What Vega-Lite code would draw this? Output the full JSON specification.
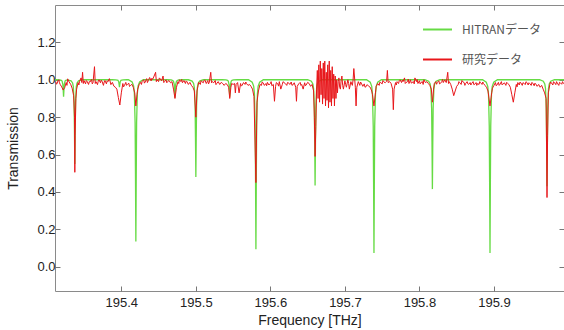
{
"$schema":"https://vega.github.io/schema/vega-lite/v6.json",
"width":509,"height":286,
"autosize":{"type":"none"},
"padding":{"left":55,"top":5,"right":0,"bottom":39},
"background":"white",
"config":{
"view":{"stroke":"#8a8a8a","strokeWidth":1},
"axis":{"grid":false,"domain":false,"tickColor":"#777","tickSize":-5,"labelFont":"Liberation Sans","labelFontSize":13,"labelColor":"#222","titleFont":"Liberation Sans","titleFontSize":14,"titleFontWeight":"normal","titleColor":"#222"}
},
"datasets":{
"hitran":[
{"freq":195.311,"trans":1.0},
{"freq":195.3125,"trans":1.0},
{"freq":195.3175,"trans":0.999},{"freq":195.3195,"trans":0.997},{"freq":195.3205,"trans":0.993},{"freq":195.3215,"trans":0.976},{"freq":195.322,"trans":0.947},{"freq":195.3225,"trans":0.91},{"freq":195.323,"trans":0.947},{"freq":195.3235,"trans":0.976},{"freq":195.3245,"trans":0.993},{"freq":195.3255,"trans":0.997},{"freq":195.3275,"trans":0.999},
{"freq":195.3326,"trans":0.994},{"freq":195.3346,"trans":0.983},{"freq":195.3356,"trans":0.963},{"freq":195.3366,"trans":0.881},{"freq":195.3371,"trans":0.735},{"freq":195.3376,"trans":0.55},{"freq":195.3381,"trans":0.735},{"freq":195.3386,"trans":0.881},{"freq":195.3396,"trans":0.963},{"freq":195.3406,"trans":0.983},{"freq":195.3426,"trans":0.994},{"freq":195.3476,"trans":1.0},
{"freq":195.3875,"trans":1.0},{"freq":195.3925,"trans":0.999},{"freq":195.3945,"trans":0.998},{"freq":195.3955,"trans":0.997},{"freq":195.3965,"trans":0.989},{"freq":195.397,"trans":0.976},{"freq":195.3975,"trans":0.96},{"freq":195.398,"trans":0.976},{"freq":195.3985,"trans":0.989},{"freq":195.3995,"trans":0.997},{"freq":195.4005,"trans":0.998},{"freq":195.4025,"trans":0.999},{"freq":195.4075,"trans":1.0},
{"freq":195.4095,"trans":1.0},{"freq":195.4145,"trans":0.988},{"freq":195.4165,"trans":0.967},{"freq":195.4175,"trans":0.928},{"freq":195.4185,"trans":0.771},{"freq":195.419,"trans":0.49},{"freq":195.4195,"trans":0.135},{"freq":195.42,"trans":0.49},{"freq":195.4205,"trans":0.771},{"freq":195.4215,"trans":0.928},{"freq":195.4225,"trans":0.967},{"freq":195.4245,"trans":0.988},{"freq":195.4295,"trans":1.0},
{"freq":195.462,"trans":1.0},{"freq":195.467,"trans":0.999},{"freq":195.469,"trans":0.996},{"freq":195.47,"trans":0.992},{"freq":195.471,"trans":0.975},{"freq":195.4715,"trans":0.944},{"freq":195.472,"trans":0.905},{"freq":195.4725,"trans":0.944},{"freq":195.473,"trans":0.975},{"freq":195.474,"trans":0.992},{"freq":195.475,"trans":0.996},{"freq":195.477,"trans":0.999},{"freq":195.482,"trans":1.0},
{"freq":195.49,"trans":1.0},{"freq":195.495,"trans":0.993},{"freq":195.497,"trans":0.98},{"freq":195.498,"trans":0.957},{"freq":195.499,"trans":0.862},{"freq":195.4995,"trans":0.693},{"freq":195.5,"trans":0.48},{"freq":195.5005,"trans":0.693},{"freq":195.501,"trans":0.862},{"freq":195.502,"trans":0.957},{"freq":195.503,"trans":0.98},{"freq":195.505,"trans":0.993},{"freq":195.51,"trans":1.0},
{"freq":195.5355,"trans":1.0},{"freq":195.5405,"trans":0.999},{"freq":195.5425,"trans":0.997},{"freq":195.5435,"trans":0.993},{"freq":195.5445,"trans":0.976},{"freq":195.545,"trans":0.947},{"freq":195.5455,"trans":0.91},{"freq":195.546,"trans":0.947},{"freq":195.5465,"trans":0.976},{"freq":195.5475,"trans":0.993},{"freq":195.5485,"trans":0.997},{"freq":195.5505,"trans":0.999},{"freq":195.5555,"trans":1.0},
{"freq":195.5706,"trans":1.0},{"freq":195.5756,"trans":0.987},{"freq":195.5776,"trans":0.966},{"freq":195.5786,"trans":0.925},{"freq":195.5796,"trans":0.76},{"freq":195.5801,"trans":0.465},{"freq":195.5806,"trans":0.094},{"freq":195.5811,"trans":0.465},{"freq":195.5816,"trans":0.76},{"freq":195.5826,"trans":0.925},{"freq":195.5836,"trans":0.966},{"freq":195.5856,"trans":0.987},{"freq":195.5906,"trans":1.0},
{"freq":195.65,"trans":1.0},{"freq":195.655,"trans":0.992},{"freq":195.657,"trans":0.978},{"freq":195.658,"trans":0.953},{"freq":195.659,"trans":0.85},{"freq":195.6595,"trans":0.666},{"freq":195.66,"trans":0.434},{"freq":195.6605,"trans":0.666},{"freq":195.661,"trans":0.85},{"freq":195.662,"trans":0.953},{"freq":195.663,"trans":0.978},{"freq":195.665,"trans":0.992},{"freq":195.67,"trans":1.0},
{"freq":195.729,"trans":1.0},{"freq":195.734,"trans":0.987},{"freq":195.736,"trans":0.965},{"freq":195.737,"trans":0.923},{"freq":195.738,"trans":0.754},{"freq":195.7385,"trans":0.453},{"freq":195.739,"trans":0.073},{"freq":195.7395,"trans":0.453},{"freq":195.74,"trans":0.754},{"freq":195.741,"trans":0.923},{"freq":195.742,"trans":0.965},{"freq":195.744,"trans":0.987},{"freq":195.749,"trans":1.0},
{"freq":195.8074,"trans":1.0},{"freq":195.8124,"trans":0.992},{"freq":195.8144,"trans":0.978},{"freq":195.8154,"trans":0.951},{"freq":195.8164,"trans":0.845},{"freq":195.8169,"trans":0.655},{"freq":195.8174,"trans":0.415},{"freq":195.8179,"trans":0.655},{"freq":195.8184,"trans":0.845},{"freq":195.8194,"trans":0.951},{"freq":195.8204,"trans":0.978},{"freq":195.8224,"trans":0.992},{"freq":195.8274,"trans":1.0},
{"freq":195.8847,"trans":1.0},{"freq":195.8897,"trans":0.987},{"freq":195.8917,"trans":0.965},{"freq":195.8927,"trans":0.923},{"freq":195.8937,"trans":0.754},{"freq":195.8942,"trans":0.453},{"freq":195.8947,"trans":0.073},{"freq":195.8952,"trans":0.453},{"freq":195.8957,"trans":0.754},{"freq":195.8967,"trans":0.923},{"freq":195.8977,"trans":0.965},{"freq":195.8997,"trans":0.987},{"freq":195.9047,"trans":1.0},
{"freq":195.9612,"trans":1.0},{"freq":195.9662,"trans":0.992},{"freq":195.9682,"trans":0.978},{"freq":195.9692,"trans":0.953},{"freq":195.9702,"trans":0.849},{"freq":195.9707,"trans":0.664},{"freq":195.9712,"trans":0.43},{"freq":195.9717,"trans":0.664},{"freq":195.9722,"trans":0.849},{"freq":195.9732,"trans":0.953},{"freq":195.9742,"trans":0.978},{"freq":195.9762,"trans":0.992},{"freq":195.9812,"trans":1.0},
{"freq":195.994,"trans":1.0}
],
"meas":[
{"freq":195.312,"trans":0.99},{"freq":195.313,"trans":0.976},{"freq":195.314,"trans":0.982},{"freq":195.315,"trans":0.995},{"freq":195.316,"trans":1.0},{"freq":195.317,"trans":0.984},{"freq":195.318,"trans":0.975},{"freq":195.32,"trans":0.962},{"freq":195.322,"trans":0.945},{"freq":195.324,"trans":0.958},{"freq":195.326,"trans":0.985},{"freq":195.327,"trans":0.97},{"freq":195.328,"trans":1.005},{"freq":195.33,"trans":0.988},{"freq":195.332,"trans":0.976},{"freq":195.334,"trans":0.955},{"freq":195.336,"trans":0.915},{"freq":195.3372,"trans":0.8},{"freq":195.3376,"trans":0.505},{"freq":195.338,"trans":0.7},{"freq":195.339,"trans":0.9},{"freq":195.34,"trans":0.95},{"freq":195.342,"trans":0.985},{"freq":195.343,"trans":0.972},{"freq":195.344,"trans":0.992},{"freq":195.346,"trans":1.01},{"freq":195.347,"trans":0.985},{"freq":195.348,"trans":1.04},{"freq":195.349,"trans":0.98},{"freq":195.35,"trans":0.995},{"freq":195.352,"trans":0.978},{"freq":195.353,"trans":0.996},{"freq":195.354,"trans":0.992},{"freq":195.356,"trans":0.975},{"freq":195.357,"trans":0.99},{"freq":195.358,"trans":0.988},{"freq":195.36,"trans":1.002},{"freq":195.361,"trans":0.978},{"freq":195.362,"trans":0.984},{"freq":195.364,"trans":1.07},{"freq":195.365,"trans":0.98},{"freq":195.366,"trans":0.99},{"freq":195.368,"trans":0.974},{"freq":195.369,"trans":0.992},{"freq":195.37,"trans":1.0},{"freq":195.372,"trans":0.984},{"freq":195.373,"trans":0.998},{"freq":195.374,"trans":0.993},{"freq":195.376,"trans":0.97},{"freq":195.377,"trans":0.988},{"freq":195.378,"trans":0.996},{"freq":195.38,"trans":0.978},{"freq":195.381,"trans":0.995},{"freq":195.382,"trans":0.99},{"freq":195.384,"trans":1.006},{"freq":195.386,"trans":0.974},{"freq":195.388,"trans":0.986},{"freq":195.39,"trans":0.966},{"freq":195.392,"trans":0.96},{"freq":195.394,"trans":0.95},{"freq":195.396,"trans":0.905},{"freq":195.398,"trans":0.865},{"freq":195.4,"trans":0.93},{"freq":195.402,"trans":0.98},{"freq":195.403,"trans":0.962},{"freq":195.404,"trans":0.968},{"freq":195.406,"trans":0.986},{"freq":195.407,"trans":0.97},{"freq":195.408,"trans":0.974},{"freq":195.41,"trans":0.982},{"freq":195.411,"trans":0.964},{"freq":195.412,"trans":0.968},{"freq":195.414,"trans":0.976},{"freq":195.416,"trans":0.96},{"freq":195.418,"trans":0.93},{"freq":195.4195,"trans":0.86},{"freq":195.421,"trans":0.92},{"freq":195.422,"trans":0.95},{"freq":195.424,"trans":0.975},{"freq":195.426,"trans":0.986},{"freq":195.427,"trans":0.975},{"freq":195.428,"trans":0.992},{"freq":195.43,"trans":1.0},{"freq":195.431,"trans":0.982},{"freq":195.432,"trans":0.988},{"freq":195.434,"trans":1.006},{"freq":195.435,"trans":0.985},{"freq":195.436,"trans":0.994},{"freq":195.438,"trans":1.012},{"freq":195.44,"trans":0.994},{"freq":195.441,"trans":1.008},{"freq":195.442,"trans":1.002},{"freq":195.444,"trans":1.02},{"freq":195.446,"trans":1.04},{"freq":195.447,"trans":0.99},{"freq":195.448,"trans":1.0},{"freq":195.45,"trans":0.99},{"freq":195.451,"trans":1.01},{"freq":195.452,"trans":1.006},{"freq":195.454,"trans":0.994},{"freq":195.456,"trans":1.02},{"freq":195.457,"trans":0.985},{"freq":195.458,"trans":0.99},{"freq":195.46,"trans":1.0},{"freq":195.461,"trans":0.984},{"freq":195.462,"trans":0.99},{"freq":195.464,"trans":0.996},{"freq":195.466,"trans":0.984},{"freq":195.468,"trans":0.99},{"freq":195.47,"trans":0.95},{"freq":195.472,"trans":0.9},{"freq":195.474,"trans":0.96},{"freq":195.476,"trans":0.99},{"freq":195.477,"trans":0.98},{"freq":195.478,"trans":1.0},{"freq":195.48,"trans":0.99},{"freq":195.481,"trans":1.002},{"freq":195.482,"trans":0.984},{"freq":195.484,"trans":0.996},{"freq":195.486,"trans":0.98},{"freq":195.487,"trans":0.994},{"freq":195.488,"trans":0.99},{"freq":195.49,"trans":0.975},{"freq":195.492,"trans":0.986},{"freq":195.494,"trans":0.97},{"freq":195.496,"trans":0.96},{"freq":195.498,"trans":0.94},{"freq":195.5,"trans":0.8},{"freq":195.5015,"trans":0.94},{"freq":195.503,"trans":0.97},{"freq":195.504,"trans":0.986},{"freq":195.506,"trans":0.975},{"freq":195.507,"trans":0.995},{"freq":195.508,"trans":0.99},{"freq":195.51,"trans":0.984},{"freq":195.511,"trans":0.996},{"freq":195.512,"trans":1.0},{"freq":195.514,"trans":0.98},{"freq":195.516,"trans":0.996},{"freq":195.517,"trans":0.978},{"freq":195.518,"trans":0.985},{"freq":195.52,"trans":1.04},{"freq":195.521,"trans":0.984},{"freq":195.522,"trans":0.99},{"freq":195.524,"trans":0.984},{"freq":195.526,"trans":0.996},{"freq":195.527,"trans":0.974},{"freq":195.528,"trans":0.98},{"freq":195.53,"trans":0.99},{"freq":195.532,"trans":0.975},{"freq":195.534,"trans":0.986},{"freq":195.536,"trans":0.98},{"freq":195.538,"trans":0.97},{"freq":195.54,"trans":0.98},{"freq":195.542,"trans":0.975},{"freq":195.544,"trans":0.96},{"freq":195.5455,"trans":0.9},{"freq":195.547,"trans":0.96},{"freq":195.548,"trans":0.98},{"freq":195.55,"trans":0.975},{"freq":195.552,"trans":0.98},{"freq":195.553,"trans":0.93},{"freq":195.554,"trans":0.975},{"freq":195.556,"trans":0.985},{"freq":195.558,"trans":0.93},{"freq":195.56,"trans":0.98},{"freq":195.561,"trans":0.966},{"freq":195.562,"trans":0.97},{"freq":195.564,"trans":0.985},{"freq":195.566,"trans":0.975},{"freq":195.567,"trans":0.988},{"freq":195.568,"trans":0.98},{"freq":195.57,"trans":0.97},{"freq":195.572,"trans":0.975},{"freq":195.574,"trans":0.965},{"freq":195.576,"trans":0.95},{"freq":195.578,"trans":0.91},{"freq":195.5806,"trans":0.45},{"freq":195.582,"trans":0.88},{"freq":195.584,"trans":0.94},{"freq":195.586,"trans":0.975},{"freq":195.588,"trans":0.97},{"freq":195.589,"trans":0.988},{"freq":195.59,"trans":0.985},{"freq":195.592,"trans":0.97},{"freq":195.594,"trans":0.98},{"freq":195.595,"trans":0.968},{"freq":195.596,"trans":0.986},{"freq":195.598,"trans":0.972},{"freq":195.6,"trans":0.98},{"freq":195.601,"trans":0.99},{"freq":195.602,"trans":0.968},{"freq":195.604,"trans":0.975},{"freq":195.6055,"trans":0.885},{"freq":195.607,"trans":0.965},{"freq":195.608,"trans":0.985},{"freq":195.61,"trans":0.978},{"freq":195.611,"trans":0.966},{"freq":195.612,"trans":0.99},{"freq":195.614,"trans":0.95},{"freq":195.616,"trans":0.975},{"freq":195.617,"trans":0.99},{"freq":195.618,"trans":0.986},{"freq":195.62,"trans":0.98},{"freq":195.622,"trans":0.97},{"freq":195.623,"trans":0.985},{"freq":195.624,"trans":0.985},{"freq":195.626,"trans":0.975},{"freq":195.628,"trans":0.988},{"freq":195.629,"trans":0.97},{"freq":195.63,"trans":0.972},{"freq":195.632,"trans":0.984},{"freq":195.634,"trans":0.96},{"freq":195.635,"trans":0.885},{"freq":195.636,"trans":0.965},{"freq":195.638,"trans":0.978},{"freq":195.64,"trans":0.986},{"freq":195.641,"trans":0.97},{"freq":195.642,"trans":0.975},{"freq":195.644,"trans":0.95},{"freq":195.646,"trans":0.984},{"freq":195.647,"trans":0.968},{"freq":195.648,"trans":0.972},{"freq":195.65,"trans":0.986},{"freq":195.652,"trans":0.98},{"freq":195.654,"trans":0.965},{"freq":195.656,"trans":0.975},{"freq":195.658,"trans":0.94},{"freq":195.659,"trans":0.8},{"freq":195.66,"trans":0.59},{"freq":195.661,"trans":0.75},{"freq":195.662,"trans":0.95},{"freq":195.663,"trans":1.05},{"freq":195.664,"trans":0.9},{"freq":195.665,"trans":1.08},{"freq":195.666,"trans":0.88},{"freq":195.667,"trans":1.1},{"freq":195.668,"trans":0.92},{"freq":195.669,"trans":1.06},{"freq":195.67,"trans":0.87},{"freq":195.671,"trans":1.09},{"freq":195.672,"trans":0.9},{"freq":195.673,"trans":1.1},{"freq":195.674,"trans":0.86},{"freq":195.675,"trans":1.04},{"freq":195.676,"trans":0.89},{"freq":195.677,"trans":1.08},{"freq":195.678,"trans":0.85},{"freq":195.679,"trans":1.1},{"freq":195.68,"trans":0.88},{"freq":195.681,"trans":1.05},{"freq":195.682,"trans":0.86},{"freq":195.683,"trans":1.07},{"freq":195.684,"trans":0.9},{"freq":195.685,"trans":1.03},{"freq":195.686,"trans":0.86},{"freq":195.687,"trans":1.02},{"freq":195.688,"trans":0.9},{"freq":195.689,"trans":1.0},{"freq":195.69,"trans":0.93},{"freq":195.691,"trans":0.99},{"freq":195.692,"trans":1.01},{"freq":195.693,"trans":0.96},{"freq":195.694,"trans":0.95},{"freq":195.695,"trans":1.0},{"freq":195.696,"trans":1.02},{"freq":195.697,"trans":0.97},{"freq":195.698,"trans":0.95},{"freq":195.7,"trans":0.995},{"freq":195.701,"trans":0.975},{"freq":195.702,"trans":0.96},{"freq":195.704,"trans":1.0},{"freq":195.705,"trans":0.98},{"freq":195.706,"trans":0.95},{"freq":195.708,"trans":0.99},{"freq":195.71,"trans":0.97},{"freq":195.711,"trans":1.0},{"freq":195.712,"trans":1.06},{"freq":195.714,"trans":0.96},{"freq":195.715,"trans":0.86},{"freq":195.716,"trans":0.96},{"freq":195.718,"trans":0.99},{"freq":195.72,"trans":0.97},{"freq":195.721,"trans":0.988},{"freq":195.722,"trans":0.982},{"freq":195.724,"trans":0.965},{"freq":195.726,"trans":0.978},{"freq":195.727,"trans":0.96},{"freq":195.728,"trans":0.962},{"freq":195.73,"trans":0.974},{"freq":195.732,"trans":0.965},{"freq":195.734,"trans":0.96},{"freq":195.736,"trans":0.94},{"freq":195.737,"trans":0.92},{"freq":195.739,"trans":0.86},{"freq":195.741,"trans":0.93},{"freq":195.742,"trans":0.965},{"freq":195.744,"trans":0.98},{"freq":195.746,"trans":0.97},{"freq":195.747,"trans":0.988},{"freq":195.748,"trans":0.985},{"freq":195.75,"trans":0.978},{"freq":195.751,"trans":0.996},{"freq":195.752,"trans":0.99},{"freq":195.754,"trans":0.984},{"freq":195.756,"trans":0.992},{"freq":195.757,"trans":1.05},{"freq":195.758,"trans":0.985},{"freq":195.76,"trans":0.99},{"freq":195.762,"trans":0.98},{"freq":195.764,"trans":0.95},{"freq":195.765,"trans":0.84},{"freq":195.766,"trans":0.95},{"freq":195.768,"trans":0.985},{"freq":195.769,"trans":0.972},{"freq":195.77,"trans":0.99},{"freq":195.772,"trans":0.98},{"freq":195.773,"trans":0.996},{"freq":195.774,"trans":1.0},{"freq":195.776,"trans":0.985},{"freq":195.777,"trans":0.998},{"freq":195.778,"trans":0.99},{"freq":195.78,"trans":1.01},{"freq":195.781,"trans":0.98},{"freq":195.782,"trans":0.985},{"freq":195.784,"trans":0.99},{"freq":195.785,"trans":1.004},{"freq":195.786,"trans":0.98},{"freq":195.788,"trans":1.0},{"freq":195.789,"trans":0.982},{"freq":195.79,"trans":0.985},{"freq":195.792,"trans":0.99},{"freq":195.793,"trans":0.978},{"freq":195.794,"trans":1.01},{"freq":195.796,"trans":0.99},{"freq":195.797,"trans":1.002},{"freq":195.798,"trans":0.98},{"freq":195.8,"trans":0.995},{"freq":195.801,"trans":0.978},{"freq":195.802,"trans":0.985},{"freq":195.804,"trans":0.99},{"freq":195.805,"trans":0.975},{"freq":195.806,"trans":1.0},{"freq":195.808,"trans":0.985},{"freq":195.81,"trans":0.99},{"freq":195.812,"trans":0.98},{"freq":195.814,"trans":0.97},{"freq":195.816,"trans":0.95},{"freq":195.8174,"trans":0.88},{"freq":195.819,"trans":0.95},{"freq":195.82,"trans":0.98},{"freq":195.822,"trans":0.99},{"freq":195.823,"trans":0.976},{"freq":195.824,"trans":0.985},{"freq":195.826,"trans":0.995},{"freq":195.827,"trans":0.978},{"freq":195.828,"trans":0.98},{"freq":195.83,"trans":0.99},{"freq":195.831,"trans":1.002},{"freq":195.832,"trans":0.985},{"freq":195.834,"trans":1.0},{"freq":195.836,"trans":0.985},{"freq":195.838,"trans":1.04},{"freq":195.839,"trans":0.98},{"freq":195.84,"trans":0.99},{"freq":195.842,"trans":0.975},{"freq":195.844,"trans":0.95},{"freq":195.846,"trans":0.915},{"freq":195.848,"trans":0.94},{"freq":195.85,"trans":0.965},{"freq":195.852,"trans":0.975},{"freq":195.853,"trans":0.99},{"freq":195.854,"trans":0.985},{"freq":195.856,"trans":0.975},{"freq":195.857,"trans":0.996},{"freq":195.858,"trans":0.99},{"freq":195.86,"trans":0.985},{"freq":195.861,"trans":0.97},{"freq":195.862,"trans":0.98},{"freq":195.864,"trans":0.99},{"freq":195.865,"trans":0.978},{"freq":195.866,"trans":0.975},{"freq":195.868,"trans":0.985},{"freq":195.869,"trans":0.972},{"freq":195.87,"trans":0.98},{"freq":195.872,"trans":0.99},{"freq":195.873,"trans":0.974},{"freq":195.874,"trans":0.975},{"freq":195.876,"trans":0.985},{"freq":195.877,"trans":0.97},{"freq":195.878,"trans":0.98},{"freq":195.88,"trans":0.975},{"freq":195.881,"trans":0.99},{"freq":195.882,"trans":0.985},{"freq":195.884,"trans":0.975},{"freq":195.885,"trans":0.988},{"freq":195.886,"trans":0.98},{"freq":195.888,"trans":0.97},{"freq":195.89,"trans":0.96},{"freq":195.892,"trans":0.94},{"freq":195.8947,"trans":0.86},{"freq":195.897,"trans":0.93},{"freq":195.898,"trans":0.955},{"freq":195.9,"trans":0.97},{"freq":195.902,"trans":0.985},{"freq":195.903,"trans":0.968},{"freq":195.904,"trans":0.972},{"freq":195.906,"trans":0.986},{"freq":195.907,"trans":0.97},{"freq":195.908,"trans":0.975},{"freq":195.91,"trans":0.99},{"freq":195.911,"trans":0.972},{"freq":195.912,"trans":0.976},{"freq":195.914,"trans":0.984},{"freq":195.916,"trans":0.97},{"freq":195.917,"trans":0.986},{"freq":195.918,"trans":0.982},{"freq":195.92,"trans":0.975},{"freq":195.922,"trans":0.96},{"freq":195.924,"trans":0.92},{"freq":195.926,"trans":0.88},{"freq":195.928,"trans":0.93},{"freq":195.93,"trans":0.975},{"freq":195.931,"trans":0.962},{"freq":195.932,"trans":0.985},{"freq":195.934,"trans":0.972},{"freq":195.935,"trans":0.988},{"freq":195.936,"trans":0.984},{"freq":195.938,"trans":0.97},{"freq":195.939,"trans":0.985},{"freq":195.94,"trans":0.982},{"freq":195.942,"trans":0.974},{"freq":195.943,"trans":0.99},{"freq":195.944,"trans":0.986},{"freq":195.946,"trans":0.972},{"freq":195.947,"trans":0.984},{"freq":195.948,"trans":0.98},{"freq":195.95,"trans":0.97},{"freq":195.951,"trans":0.986},{"freq":195.952,"trans":0.982},{"freq":195.954,"trans":0.968},{"freq":195.955,"trans":0.982},{"freq":195.956,"trans":0.978},{"freq":195.958,"trans":0.965},{"freq":195.96,"trans":0.975},{"freq":195.962,"trans":0.96},{"freq":195.964,"trans":0.97},{"freq":195.966,"trans":0.95},{"freq":195.968,"trans":0.93},{"freq":195.97,"trans":0.9},{"freq":195.9712,"trans":0.37},{"freq":195.972,"trans":0.7},{"freq":195.973,"trans":0.93},{"freq":195.975,"trans":0.975},{"freq":195.976,"trans":0.988},{"freq":195.977,"trans":0.984},{"freq":195.979,"trans":0.972},{"freq":195.98,"trans":0.99},{"freq":195.981,"trans":0.986},{"freq":195.983,"trans":0.974},{"freq":195.984,"trans":0.99},{"freq":195.985,"trans":0.982},{"freq":195.987,"trans":0.97},{"freq":195.988,"trans":0.986},{"freq":195.989,"trans":0.984},{"freq":195.991,"trans":0.976},{"freq":195.992,"trans":0.99},{"freq":195.993,"trans":0.982},{"freq":195.994,"trans":0.978}
]
},
"layer":[
{"data":{"name":"hitran"},
"mark":{"type":"line","strokeWidth":1.3,"interpolate":"linear"},
"encoding":{
"x":{"field":"freq","type":"quantitative","scale":{"domain":[195.311,195.994],"nice":false,"zero":false},"axis":{"orient":"top","labels":false,"title":null,"values":[195.4,195.5,195.6,195.7,195.8,195.9]}},
"y":{"field":"trans","type":"quantitative","scale":{"domain":[-0.13,1.4],"nice":false,"zero":false},"axis":{"orient":"right","labels":false,"title":null,"values":[0,0.2,0.4,0.6,0.8,1.0,1.2]}},
"color":{"datum":"HITRANデータ","type":"nominal","scale":{"domain":["HITRANデータ","研究データ"],"range":["#66db44","#e8161a"]},
"legend":{"orient":"none","legendX":367,"legendY":9,"symbolType":"stroke","symbolSize":841,"symbolStrokeWidth":2,"labelFont":"Noto Sans CJK JP","labelFontSize":12,"labelColor":"#555","rowPadding":8,"labelOffset":9,"title":null,"padding":0}}
}},
{"data":{"name":"meas"},
"mark":{"type":"line","strokeWidth":1,"interpolate":"linear"},
"encoding":{
"x":{"field":"freq","type":"quantitative","axis":{"orient":"bottom","title":"Frequency [THz]","format":".1f","values":[195.4,195.5,195.6,195.7,195.8,195.9],"labelPadding":10,"titlePadding":4}},
"y":{"field":"trans","type":"quantitative","axis":{"orient":"left","title":"Transmission","format":".1f","values":[0,0.2,0.4,0.6,0.8,1.0,1.2],"labelPadding":5,"titlePadding":16}},
"color":{"datum":"研究データ","type":"nominal"}
}}
],
"resolve":{"axis":{"x":"independent","y":"independent"}}
}
